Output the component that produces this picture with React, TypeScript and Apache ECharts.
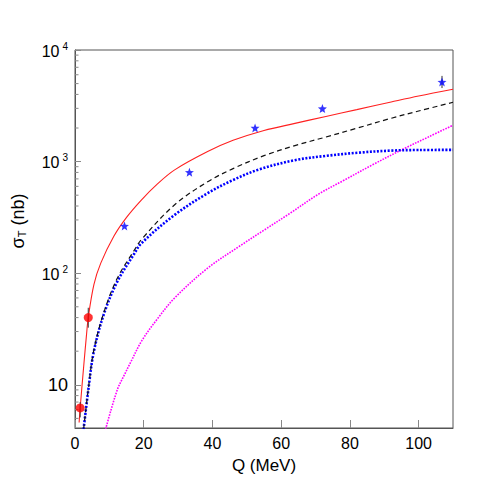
import React, { useEffect, useRef } from "react";
import * as echarts from "echarts";

// ---- data ----
const Y_MIN = 4.1;
const Y_MAX = 10000;
const X_MIN = 0;
const X_MAX = 110;
const X_TICK_STEP = 20;

// total (red solid)
const qRed = [1.2, 1.5, 2.6, 3.3, 3.86, 5.5, 7.5, 11.3, 15, 19.3, 24, 29, 38.6, 46, 55, 64, 73, 82, 92, 100, 110];
const sigmaRed = [4.6, 6.2, 15.5, 27, 40, 79, 123, 214, 316, 452, 631, 843, 1230, 1550, 1900, 2200, 2540, 2920, 3420, 3870, 4450];

// black dashed
const qBlack = [2.5, 4.06, 5.5, 8.4, 12.3, 17.1, 19.3, 29, 38.6, 46, 55, 64, 73, 82, 92, 100, 110];
const sigmaBlack = [4.0, 10.2, 20.6, 44.5, 90, 158, 200, 410, 660, 865, 1130, 1390, 1660, 1990, 2445, 2840, 3400];

// blue dotted
const qBlue = [2.5, 4.06, 5.5, 8.4, 12.3, 17.1, 19.3, 29, 38.6, 46, 53.6, 64, 73, 82.6, 92, 100, 110];
const sigmaBlue = [4.0, 10.0, 20, 43, 84, 147, 185, 333, 521, 684, 851, 1030, 1125, 1203, 1255, 1270, 1273];

// magenta dotted
const qMagenta = [8.9, 12.3, 14.5, 16.1, 19.5, 24, 29, 38.6, 48.3, 55, 62, 71, 78, 86.5, 96, 103, 110];
const sigmaMagenta = [4.0, 9.0, 12.5, 15.7, 25, 39, 60, 111, 178, 243, 335, 514, 673, 933, 1318, 1670, 2120];

// blue stars (data)
const qStars = [14.4, 33.3, 52.4, 72, 106.8];
const sigmaStars = [265, 803, 2005, 2985, 5170];
const starErrLo = [265, 803, 2005, 2985, 4560];
const starErrHi = [265, 803, 2005, 2985, 5860];

// red circles (data)
const qCircles = [1.5, 3.86];
const sigmaCircles = [6.2, 40];
const circleErrLo = [5.1, 32.5];
const circleErrHi = [7.0, 49];

const FONT = "Liberation Sans, Arial, Helvetica, sans-serif";
const STAR_PATH =
  "path://M12,1 L14.9,8.6 L23,9 L16.7,14.1 L18.8,22 L12,17.6 L5.2,22 L7.3,14.1 L1,9 L9.1,8.6 Z";

const pairs = (xs: number[], ys: number[]) => xs.map((x, i) => [x, ys[i]]);

export default function App() {
  const ref = useRef<HTMLDivElement>(null);

  useEffect(() => {
    if (!ref.current) return;
    const chart = echarts.init(ref.current, null, { renderer: "svg" });

    const minorY: number[] = [];
    for (const d of [1, 10, 100, 1000]) {
      for (let k = 2; k <= 9; k++) {
        const v = k * d;
        if (v >= Y_MIN && v <= Y_MAX) minorY.push(v);
      }
    }

    const errRender = (params: any, api: any) => {
      const x = api.value(0);
      const p1 = api.coord([x, api.value(1)]);
      const p2 = api.coord([x, api.value(2)]);
      return {
        type: "line",
        shape: { x1: p1[0], y1: p1[1], x2: p2[0], y2: p2[1] },
        style: { stroke: "#333", lineWidth: 1 },
      };
    };

    const curve = (name: string, xs: number[], ys: number[], lineStyle: any, z: number) => ({
      type: "line",
      name,
      data: pairs(xs, ys),
      showSymbol: false,
      symbol: "none",
      smooth: 0.35,
      lineStyle,
      z,
    });

    chart.setOption({
      animation: false,
      backgroundColor: "#fff",
      grid: {
        left: 75,
        right: 51,
        top: 50,
        bottom: 76,
        show: true,
        borderColor: "#555",
        borderWidth: 1,
        backgroundColor: "transparent",
      },
      xAxis: {
        type: "value",
        min: X_MIN,
        max: X_MAX,
        interval: X_TICK_STEP,
        axisLine: { show: true, lineStyle: { color: "#555", width: 1 } },
        axisTick: { show: true, inside: true, length: 8, lineStyle: { color: "#888" } },
        axisLabel: {
          showMaxLabel: false,
          margin: 7,
          fontSize: 16,
          fontFamily: FONT,
          color: "#000",
        },
        splitLine: { show: false },
      },
      yAxis: {
        type: "log",
        logBase: 10,
        min: Y_MIN,
        max: Y_MAX,
        axisLine: { show: true, lineStyle: { color: "#555", width: 1 } },
        axisTick: { show: true, inside: true, length: 6, lineStyle: { color: "#888" } },
        axisLabel: {
          margin: 7,
          showMinLabel: false,
          fontFamily: FONT,
          color: "#000",
          formatter: (v: number) => {
            const l = Math.log10(v);
            const e = Math.round(l);
            if (Math.abs(l - e) > 1e-6) return "";
            if (e === 1) return "{p|10}";
            return `{b|10}{s|${e}}`;
          },
          rich: {
            p: { fontSize: 18, fontFamily: FONT, color: "#000" },
            b: { fontSize: 16, lineHeight: 18, verticalAlign: "bottom", fontFamily: FONT, color: "#000" },
            s: { fontSize: 10, lineHeight: 10, verticalAlign: "top", padding: [0, 0, 0, 3], fontFamily: FONT, color: "#000" },
          },
        },
        splitLine: { show: false },
      },
      graphic: [
        {
          type: "text",
          x: 264,
          y: 465,
          style: {
            text: "Q (MeV)",
            font: `17px ${FONT}`,
            fill: "#000",
            textAlign: "center",
            textVerticalAlign: "middle",
          },
        },
        {
          type: "text",
          x: 17,
          y: 221,
          rotation: Math.PI / 2,
          style: {
            text: "{a|σ}{t|T}{a| (nb)}",
            textAlign: "center",
            textVerticalAlign: "middle",
            rich: {
              a: { fontSize: 18, lineHeight: 20, verticalAlign: "bottom", fontFamily: FONT, fill: "#000", color: "#000" },
              t: { fontSize: 11, lineHeight: 12, verticalAlign: "bottom", fontFamily: FONT, fill: "#000", color: "#000" },
            },
          },
        },
      ],
      series: [
        {
          type: "custom",
          name: "minorTicks",
          silent: true,
          data: minorY.map((v) => [X_MIN, v]),
          renderItem: (params: any, api: any) => {
            const p = api.coord([X_MIN, api.value(1)]);
            return {
              type: "line",
              shape: { x1: p[0], y1: p[1], x2: p[0] + 3.5, y2: p[1] },
              style: { stroke: "#888", lineWidth: 1 },
            };
          },
          z: 1,
        },
        curve("magenta", qMagenta, sigmaMagenta, { color: "#ff00ff", width: 1.6, type: [1.6, 1.2] }, 2),
        curve("blue", qBlue, sigmaBlue, { color: "#0000ff", width: 2.6, type: [2, 1.6] }, 3),
        curve("black", qBlack, sigmaBlack, { color: "#111", width: 1.2, type: [5, 3.5] }, 4),
        curve("red", qRed, sigmaRed, { color: "#ff2020", width: 1.1 }, 5),
        {
          type: "custom",
          name: "circleErr",
          data: qCircles.map((q, i) => [q, circleErrLo[i], circleErrHi[i]]),
          renderItem: errRender,
          z: 6,
        },
        {
          type: "custom",
          name: "starErr",
          data: qStars.map((q, i) => [q, starErrLo[i], starErrHi[i]]),
          renderItem: errRender,
          z: 6,
        },
        {
          type: "scatter",
          name: "circles",
          data: pairs(qCircles, sigmaCircles),
          symbol: "circle",
          symbolSize: 9,
          itemStyle: { color: "#ff0000" },
          z: 7,
        },
        {
          type: "scatter",
          name: "stars",
          data: pairs(qStars, sigmaStars),
          symbol: STAR_PATH,
          symbolSize: 9,
          itemStyle: { color: "#0000ff" },
          z: 7,
        },
      ],
    });

    return () => chart.dispose();
  }, []);

  return (
    <div
      ref={ref}
      style={{ position: "absolute", left: 0, top: 0, width: 504, height: 504 }}
    />
  );
}
